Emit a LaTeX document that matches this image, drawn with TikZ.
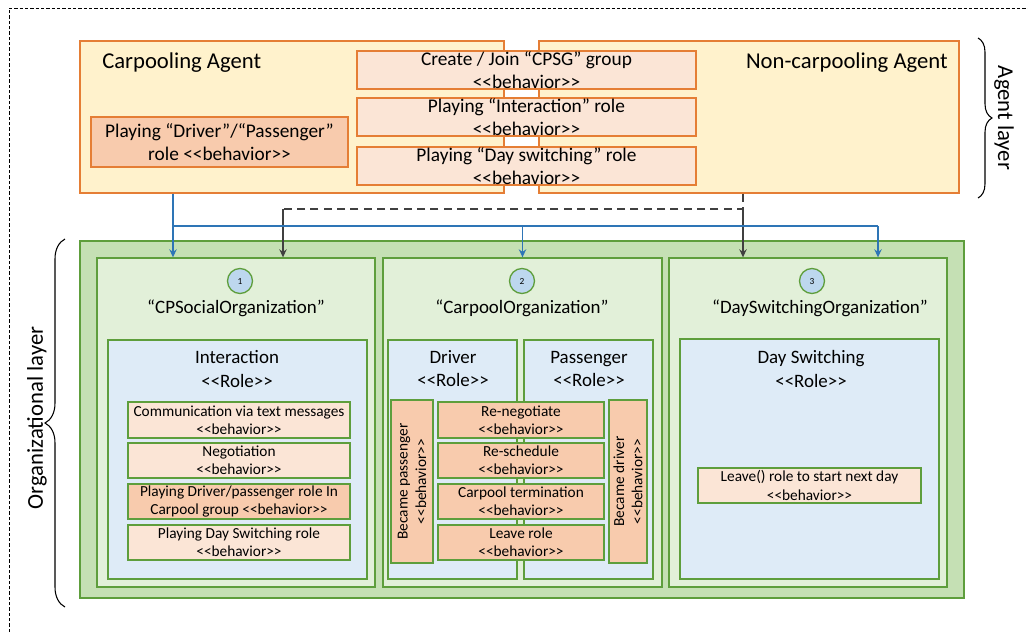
\documentclass[tikz,border=0pt]{standalone}
\usepackage{fontspec}
\setmainfont{Carlito}[Ligatures=TeXOff]
\usetikzlibrary{fit,arrows.meta,decorations.pathreplacing}
\definecolor{agentfill}{HTML}{FFF2CC}
\definecolor{agentline}{HTML}{E57E35}
\definecolor{bhvlight}{HTML}{FBE5D6}
\definecolor{bhvdark}{HTML}{F8CBAD}
\definecolor{layerfill}{HTML}{C5E0B4}
\definecolor{orgfill}{HTML}{E2F0D9}
\definecolor{rolefill}{HTML}{DEEBF7}
\definecolor{numfill}{HTML}{BDD7EE}
\definecolor{greenline}{HTML}{5E9E3C}
\definecolor{arrowblue}{HTML}{2E75B6}
\definecolor{arrowgray}{HTML}{404040}
\tikzset{
	agentbox/.style={draw=agentline, fill=agentfill, line width=1pt, inner sep=0pt},
	agentbhv/.style={draw=agentline, fill=bhvlight, line width=1pt, inner sep=0pt},
	layerbox/.style={draw=greenline, fill=layerfill, line width=1pt, inner sep=0pt},
	orgbox/.style={draw=greenline, fill=orgfill, line width=1pt, inner sep=0pt},
	rolebox/.style={draw=greenline, fill=rolefill, line width=1pt, inner sep=0pt},
	bhv/.style={draw=greenline, fill=bhvlight, line width=1pt, inner sep=0pt},
	numdot/.style={circle, draw=greenline, fill=numfill, line width=1pt, minimum size=18.75pt, inner sep=0pt, font=\fontsize{7}{8}\selectfont},
	bigtitle/.style={inner sep=0pt, font=\fontsize{17}{20}\selectfont},
	title/.style={inner sep=0pt, align=center, font=\fontsize{14.2}{17.3}\selectfont},
	agenttext/.style={inner sep=0pt, align=center, font=\fontsize{14.5}{17}\selectfont},
	smalltext/.style={inner sep=0pt, align=center, font=\fontsize{11.5}{13.8}\selectfont},
	layerbrace/.style={decorate, decoration={brace, amplitude=#1}, line width=0.8pt},
	blueline/.style={draw=arrowblue, line width=1.2pt},
	grayline/.style={draw=arrowgray, line width=1.1pt},
	tip/.style={-{Stealth[length=6pt, width=5.5pt]}}
}

\begin{document}
\begin{tikzpicture}[x=0.75pt, y=-0.75pt]
	%%%%% START %%%%%
	\useasboundingbox (0,0) rectangle (1028,632);
	\draw[line width=0.6pt, dash pattern=on 2.5pt off 1.5pt] (9,632) -- (9,8) -- (1028,8);
	
	% agent layer
	\node[agentbox, fit={(80,41) (504,193)}] (cpa) {};
	\node[agentbox, fit={(539,41) (959,193)}] (nca) {};
	\node[bigtitle, anchor=west] (cpaName) at (102,63) {Carpooling Agent};
	\node[bigtitle, anchor=east] (ncaName) at (948,63) {Non-carpooling Agent};
	\node[agentbhv, fill=bhvdark, fit={(91,117) (348,167)}] (playDP) {};
	\node[agenttext] (playDPText) at (playDP) {Playing “Driver”/“Passenger”\\role <<behavior>>};
	\node[agentbhv, fit={(357,51) (696,89)}] (createCPSG) {};
	\node[agenttext] (createCPSGText) at (createCPSG) {Create / Join “CPSG” group\\<<behavior>>};
	\node[agentbhv, fit={(357,98) (696,136)}] (playInter) {};
	\node[agenttext] (playInterText) at (playInter) {Playing “Interaction” role\\<<behavior>>};
	\node[agentbhv, fit={(357,147) (696,185)}] (playDay) {};
	\node[agenttext] (playDayText) at (playDay) {Playing “Day switching” role\\<<behavior>>};
	
	\draw[layerbrace=10.5pt] (978,38) -- (978,198);
	\node[bigtitle, rotate=-90] (agentLayer) at (1004,118) {Agent layer};
	
	% organizational layer
	\node[layerbox, fit={(80,241) (964,598)}] (orgLayer) {};
	\node[orgbox, fit={(97,258) (375,587)}] (org1) {};
	\node[orgbox, fit={(383,258) (662,587)}] (org2) {};
	\node[orgbox, fit={(669,258) (947,587)}] (org3) {};
	
	\node[numdot] (n1) at (240,281) {1};
	\node[numdot] (n2) at (522,281) {2};
	\node[numdot] (n3) at (812,281) {3};
	\node[title] (org1Name) at (236,308) {“CPSocialOrganization”};
	\node[title] (org2Name) at (522,308) {“CarpoolOrganization”};
	\node[title] (org3Name) at (820,308) {“DaySwitchingOrganization”};
	
	\draw[layerbrace=15pt] (65,607) -- (65,239);
	\node[bigtitle, rotate=90] (orgLayerName) at (37,418) {Organizational layer};
	
	% roles
	\node[rolebox, fit={(108,340) (367,579)}] (interRole) {};
	\node[rolebox, fit={(388,340) (517,579)}] (driverRole) {};
	\node[rolebox, fit={(524,340) (653,579)}] (passRole) {};
	\node[rolebox, fit={(680,339) (939,579)}] (dayRole) {};
	\node[title] (interName) at (237,369) {Interaction\\<<Role>>};
	\node[title] (driverName) at (453,369) {Driver\\<<Role>>};
	\node[title] (passName) at (589,369) {Passenger\\<<Role>>};
	\node[title] (dayName) at (811,369) {Day Switching\\<<Role>>};
	
	% behaviors of the roles
	\node[bhv, fit={(128,402) (350,438)}] (commText) {};
	\node[smalltext] (commTextLbl) at (commText) {Communication via text messages\\<<behavior>>};
	\node[bhv, fit={(128,443) (350,478)}] (negot) {};
	\node[smalltext] (negotLbl) at (negot) {Negotiation\\<<behavior>>};
	\node[bhv, fill=bhvdark, fit={(128,484) (350,519)}] (playGroup) {};
	\node[smalltext] (playGroupLbl) at (playGroup) {Playing Driver/passenger role In\\Carpool group <<behavior>>};
	\node[bhv, fit={(128,525) (350,560)}] (playSwitch) {};
	\node[smalltext] (playSwitchLbl) at (playSwitch) {Playing Day Switching role\\<<behavior>>};
	
	\node[bhv, fill=bhvdark, fit={(438,402) (604,438)}] (reNegot) {};
	\node[smalltext] (reNegotLbl) at (reNegot) {Re-negotiate\\<<behavior>>};
	\node[bhv, fill=bhvdark, fit={(438,443) (604,478)}] (reSched) {};
	\node[smalltext] (reSchedLbl) at (reSched) {Re-schedule\\<<behavior>>};
	\node[bhv, fill=bhvdark, fit={(438,484) (604,519)}] (cpTerm) {};
	\node[smalltext] (cpTermLbl) at (cpTerm) {Carpool termination\\<<behavior>>};
	\node[bhv, fill=bhvdark, fit={(438,525) (604,560)}] (leaveRole) {};
	\node[smalltext] (leaveRoleLbl) at (leaveRole) {Leave role\\<<behavior>>};
	
	\node[bhv, fill=bhvdark, fit={(391,400) (433,563)}] (becamePass) {};
	\node[smalltext, rotate=90] (becamePassLbl) at (becamePass) {Became passenger\\<<behavior>>};
	\node[bhv, fill=bhvdark, fit={(609,400) (647,563)}] (becameDrv) {};
	\node[smalltext, rotate=90] (becameDrvLbl) at (becameDrv) {Became driver\\<<behavior>>};
	
	\node[bhv, fit={(698,468) (921,503)}] (leaveDay) {};
	\node[smalltext] (leaveDayLbl) at (leaveDay) {Leave() role to start next day\\<<behavior>>};
	
	% connectors
	\coordinate (blueL) at (173,226);
	\coordinate (blueR) at (878,226);
	\coordinate (grayL) at (283,209);
	\coordinate (grayR) at (743,209);
	\draw[grayline, dash pattern=on 6pt off 4pt] (nca.south -| grayR) -- (grayR) -- (grayL);
	\draw[grayline, tip] (grayL) -- (grayL |- org1.north);
	\draw[grayline, tip] (grayR) -- (grayR |- org3.north);
	\draw[blueline, tip] (cpa.south -| blueL) -- (blueL |- org1.north);
	\draw[blueline] (blueL) -- (blueR);
	\draw[blueline, tip] (blueL -| org2.north) -- (org2.north);
	\draw[blueline, tip] (blueR) -- (blueR |- org3.north);
	%%%%% END %%%%%
\end{tikzpicture}
\end{document}
